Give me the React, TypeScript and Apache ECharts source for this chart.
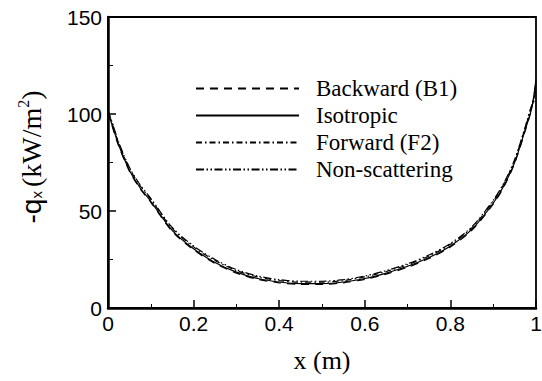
import React, { useEffect, useRef } from "react";
import * as echarts from "echarts";

const xs = [0, 0.01, 0.025, 0.05, 0.075, 0.1, 0.15, 0.2, 0.25, 0.3, 0.35, 0.4, 0.45, 0.5, 0.55, 0.6, 0.65, 0.7, 0.75, 0.8, 0.85, 0.9, 0.925, 0.95, 0.975, 0.99, 1.0];

const backward = [101, 93.5, 83.5, 70.5, 61.5, 54.5, 39.5, 30, 23, 18, 14.8, 13, 12.2, 12.2, 13, 14.8, 17.5, 21, 25.5, 31.5, 40, 53.5, 62.5, 74.5, 91.5, 103, 116];
const isotropic = [101, 94, 84, 71, 62, 55, 40, 30.5, 23.5, 18.5, 15.2, 13.4, 12.6, 12.6, 13.4, 15.2, 18, 21.5, 26, 32, 40.5, 54, 63, 75, 92, 103, 118];
const forward = [102, 95, 85, 72, 63, 56, 41, 31.5, 24.5, 19.3, 16, 14.1, 13.3, 13.3, 14.1, 16, 18.8, 22.3, 26.8, 32.8, 41.3, 55, 64, 76, 93, 104, 112];
const nonScattering = [102, 95.5, 85.5, 72.5, 63.5, 56.5, 41.5, 32, 25, 19.8, 16.5, 14.6, 13.8, 13.8, 14.6, 16.5, 19.3, 22.8, 27.3, 33.3, 41.8, 55.5, 64.5, 76.5, 93.5, 104.5, 108];

const seriesNames = ["Backward (B1)", "Isotropic", "Forward (F2)", "Non-scattering"];
const seriesData = [backward, isotropic, forward, nonScattering];
const dashes: any[] = [[8, 6], "solid", [6, 3, 1.5, 3], [8, 2.5, 1.5, 2.5, 1.5, 2.5]];

const yTicks = [0, 150, 50];
const xTicks = [0, 1, 0.2];
const yTitle = "{a|-q}{s|x}{g| }{b|(kW/m}{p|2}{b|)}";

export default function App() {
  const ref = useRef<HTMLDivElement>(null);
  useEffect(() => {
    if (!ref.current) return;
    const chart = echarts.init(ref.current, null, { renderer: "svg" });
    const serif = "'Liberation Serif', 'Times New Roman', serif";
    const sans = "'Liberation Sans', Arial, sans-serif";
    chart.setOption({
      animation: false,
      backgroundColor: "#fff",
      grid: {
        left: 108,
        right: 6,
        top: 17,
        bottom: 73,
        containLabel: false,
        outerBoundsMode: "none",
        show: true,
        borderColor: "#000",
        borderWidth: 1.8,
      },
      graphic: [
        {
          type: "text",
          x: 31,
          y: 157,
          rotation: Math.PI / 2,
          style: {
            text: yTitle,
            align: "center",
            verticalAlign: "middle",
            fill: "#000",
            rich: {
              a: { fontFamily: sans, fontSize: 28, fill: "#000", lineHeight: 34, verticalAlign: "middle" },
              s: { fontFamily: sans, fontSize: 15, fill: "#000", lineHeight: 34, verticalAlign: "bottom", padding: [0, 0, 4, 0] },
              g: { fontFamily: serif, fontSize: 16, fill: "#000", lineHeight: 34, verticalAlign: "middle" },
              b: { fontFamily: serif, fontSize: 28, fill: "#000", lineHeight: 34, verticalAlign: "middle" },
              p: { fontFamily: serif, fontSize: 16, fill: "#000", lineHeight: 34, verticalAlign: "top", padding: [1, 0, 0, 0] },
            },
          },
        },
      ],
      legend: {
        orient: "vertical",
        left: 195,
        top: 77,
        itemWidth: 103,
        itemHeight: 20,
        itemGap: 4,
        padding: 0,
        data: seriesNames,
        itemStyle: { opacity: 0 },
        textStyle: {
          fontFamily: serif,
          fontSize: 23,
          color: "#000",
          padding: [0, 0, 0, 12],
        },
      },
      xAxis: {
        type: "value",
        min: xTicks[0],
        max: xTicks[1],
        interval: xTicks[2],
        name: "x (m)",
        nameLocation: "middle",
        nameGap: 39,
        nameTextStyle: { fontFamily: serif, fontSize: 26, color: "#000" },
        axisLine: { show: true, lineStyle: { color: "#000", width: 2.5 } },
        axisTick: { show: true, inside: true, length: 8, lineStyle: { color: "#000", width: 1.5 } },
        minorTick: { show: true, splitNumber: 2, length: 4, lineStyle: { color: "#000", width: 1 } },
        axisLabel: { fontFamily: sans, fontSize: 21, color: "#000", margin: 5 },
        splitLine: { show: false },
      },
      yAxis: {
        type: "value",
        min: yTicks[0],
        max: yTicks[1],
        interval: yTicks[2],
        axisLine: { show: true, lineStyle: { color: "#000", width: 2.5 } },
        axisTick: { show: true, inside: true, length: 8, lineStyle: { color: "#000", width: 1.5 } },
        minorTick: { show: true, splitNumber: 2, length: 5, lineStyle: { color: "#000", width: 1 } },
        axisLabel: { fontFamily: sans, fontSize: 21, color: "#000", margin: 6 },
        splitLine: { show: false },
      },
      series: seriesNames.map((name, i) => ({
        name,
        type: "line",
        data: xs.map((x, j) => [x, seriesData[i][j]]),
        smooth: 0.3,
        symbol: "none",
        clip: false,
        lineStyle: { color: "#000", width: 1.2, type: dashes[i] },
        itemStyle: { color: "#000" },
      })),
    });
    return () => chart.dispose();
  }, []);
  return <div ref={ref} style={{ width: 542, height: 381, position: "absolute", left: 0, top: 0 }} />;
}
